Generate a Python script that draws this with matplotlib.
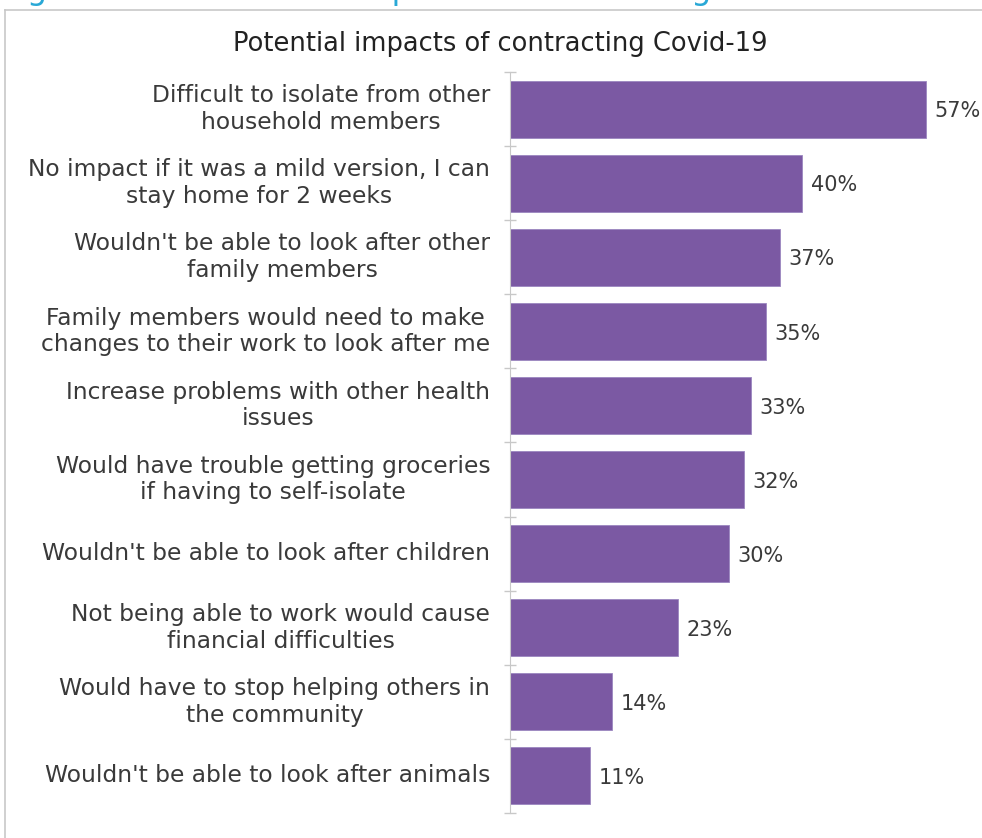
import matplotlib.pyplot as plt
from matplotlib.lines import Line2D

# 数据
labels = [
    "Difficult to isolate from other\nhousehold members",
    "No impact if it was a mild version, I can\nstay home for 2 weeks",
    "Wouldn't be able to look after other\nfamily members",
    "Family members would need to make\nchanges to their work to look after me",
    "Increase problems with other health\nissues",
    "Would have trouble getting groceries\nif having to self-isolate",
    "Wouldn't be able to look after children",
    "Not being able to work would cause\nfinancial difficulties",
    "Would have to stop helping others in\nthe community",
    "Wouldn't be able to look after animals",
]
values = [57, 40, 37, 35, 33, 32, 30, 23, 14, 11]

bar_color = "#7B59A3"
text_color = "#3a3a3a"
grey = "#c8c8c8"

plt.rcParams['font.family'] = ['DejaVu Sans']

fig = plt.figure(figsize=(9.82, 8.38), dpi=100)
ax = fig.add_axes([510 / 982, 25 / 838, 472 / 982, 741 / 838])

y = list(range(len(values)))
ax.barh(y, values, height=0.77, color=bar_color, edgecolor="#9b86c0", linewidth=0.6)
ax.set_ylim(len(values) - 0.5, -0.5)
ax.set_xlim(0, 472 / 7.3)

for yi, v in zip(y, values):
    ax.text(v + 1.2, yi + 0.03, f"{v}%", va="center", ha="left",
            fontsize=15, color=text_color, clip_on=False)

# 类别标签：整体右对齐，多行居中
for yi, lab in zip(y, labels):
    ax.text(-2.7, yi, lab, ha="right", va="center", fontsize=16.8,
            color=text_color, linespacing=1.2, multialignment="center")

ax.set_yticks([])
ax.set_yticks([i - 0.5 for i in range(len(values) + 1)], minor=True)
ax.tick_params(axis="y", which="minor", direction="inout", length=9, color=grey, width=1)
ax.set_xticks([])
for s in ["top", "right", "bottom"]:
    ax.spines[s].set_visible(False)
ax.spines["left"].set_color(grey)

fig.text(500 / 982, 1 - 44 / 838, "Potential impacts of contracting Covid-19",
         ha="center", va="center", fontsize=18.5, color="#222222")

# 外框与被截断的图题
fig.add_artist(Line2D([5 / 982, 5 / 982], [0, 1 - 10 / 838], color=grey, lw=1.2))
fig.add_artist(Line2D([5 / 982, 1], [1 - 10 / 838, 1 - 10 / 838], color=grey, lw=1.2))
fig.text(2 / 982, 1 + 9 / 838, "Figure 3.6.1 Potential impacts of contracting Covid-19",
         ha="left", va="center", fontsize=23, color="#29a8d6")

fig.savefig("out.png", dpi=100)
